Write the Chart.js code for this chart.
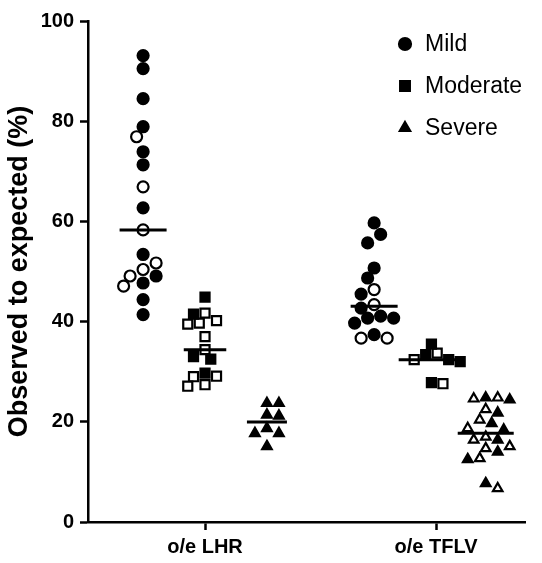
<!DOCTYPE html>
<html>
<head>
<meta charset="utf-8">
<script src="https://cdn.jsdelivr.net/npm/chart.js@4.4.1/dist/chart.umd.min.js"></script>
<style>
  html, body { margin: 0; padding: 0; background: #fff; }
</style>
</head>
<body>
<canvas id="myChart" width="542" height="563"></canvas>
<script>
const categories = ['o/e LHR', 'o/e TFLV'];
const severities = ['Mild', 'Moderate', 'Severe'];
const yTicks = [0, 20, 40, 60, 80, 100];
const yTitle = 'Observed to expected (%)';

// filled = solid markers, open = hollow markers (values in %)
const lhrMildFilled = [93.1, 90.5, 84.5, 78.9, 73.9, 71.3, 62.7, 53.4, 49.1, 47.7, 44.4, 41.4];
const lhrMildOpen = [76.9, 66.9, 58.3, 51.7, 50.4, 49.1, 47.1];
const lhrModerateFilled = [44.9, 41.5, 33.0, 32.5, 29.7];
const lhrModerateOpen = [41.7, 40.2, 39.7, 39.5, 37.0, 34.4, 29.1, 29.0, 27.4, 27.1];
const lhrSevereFilled = [23.7, 23.7, 21.4, 21.2, 18.7, 17.7, 17.7, 15.1];
const lhrSevereOpen = [];
const tflvMildFilled = [59.7, 57.4, 55.7, 50.7, 48.7, 45.5, 42.7, 41.1, 40.7, 40.7, 39.7, 37.4];
const tflvMildOpen = [46.4, 43.4, 36.7, 36.7];
const tflvModerateFilled = [35.5, 33.4, 32.4, 32.0, 27.8];
const tflvModerateOpen = [33.7, 32.4, 27.6];
const tflvSevereFilled = [24.4, 24.8, 21.8, 19.7, 18.4, 16.4, 14.0, 12.5, 7.7];
const tflvSevereOpen = [24.8, 24.6, 22.5, 20.4, 18.7, 17.0, 16.4, 15.1, 14.7, 12.7, 6.7];

const groups = [
  { cat: 0, sev: 0, filled: lhrMildFilled, open: lhrMildOpen },
  { cat: 0, sev: 1, filled: lhrModerateFilled, open: lhrModerateOpen },
  { cat: 0, sev: 2, filled: lhrSevereFilled, open: lhrSevereOpen },
  { cat: 1, sev: 0, filled: tflvMildFilled, open: tflvMildOpen },
  { cat: 1, sev: 1, filled: tflvModerateFilled, open: tflvModerateOpen },
  { cat: 1, sev: 2, filled: tflvSevereFilled, open: tflvSevereOpen }
];

// layout
const catPos = [1, 2];
const sevShift = [[-0.268, 0, 0.268], [-0.268, -0.02, 0.215]];
const styles = ['circle', 'rect', 'triangle'];
const radii = [5.5, 6.4, 5.5];
const diams = [13, 11.5, 12];
const lineW = 2.2;
const FONT = '"Liberation Sans", Arial, sans-serif';

groups.forEach(g => {
  g.x = catPos[g.cat] + sevShift[g.cat][g.sev];
  g.values = g.filled.concat(g.open);
  const s = g.values.slice().sort((a, b) => a - b), n = s.length;
  g.median = n % 2 ? s[(n - 1) / 2] : (s[n / 2 - 1] + s[n / 2]) / 2;
  g.off = g.values.map(() => 0);
  g.half = 0.09;
});

// simple beeswarm in pixel space
function swarm(py, diam) {
  const order = py.map((p, i) => i).sort((a, b) => py[a] - py[b]);
  const placed = [];
  const off = py.map(() => 0);
  const step = diam / 2, minD = diam * 0.9;
  order.forEach((i, n) => {
    for (let k = 0; k < 60; k++) {
      const cands = k === 0 ? [0] : (n % 2 ? [k * step, -k * step] : [-k * step, k * step]);
      const ok = cands.find(dx => placed.every(q => Math.hypot(q.dx - dx, q.py - py[i]) >= minD));
      if (ok !== undefined) {
        off[i] = ok;
        placed.push({ dx: ok, py: py[i] });
        break;
      }
    }
  });
  return off;
}

function buildDatasets() {
  const sets = [];
  groups.forEach(g => {
    sets.push({
      type: 'line',
      data: [{ x: g.x - g.half, y: g.median }, { x: g.x + g.half, y: g.median }],
      borderColor: '#000',
      borderWidth: 3,
      pointRadius: 0,
      order: 0
    });
  });
  severities.forEach((name, sev) => {
    [false, true].forEach(hollow => {
      const data = [];
      groups.filter(g => g.sev === sev).forEach(g => {
        const n = g.filled.length;
        g.values.forEach((v, i) => {
          if ((i >= n) === hollow) data.push({ x: g.x + g.off[i], y: v });
        });
      });
      sets.push({
        type: 'scatter',
        label: hollow ? name + ' (open)' : name,
        data: data,
        pointStyle: styles[sev],
        pointRadius: radii[sev],
        pointBackgroundColor: hollow ? '#fff' : '#000',
        pointBorderColor: '#000',
        pointBorderWidth: lineW,
        order: 1
      });
    });
  });
  return sets;
}

function drawMarker(ctx, style, r, x, y) {
  ctx.beginPath();
  if (style === 'circle') {
    ctx.arc(x, y, r, 0, Math.PI * 2);
  } else if (style === 'rect') {
    const s = r * Math.SQRT1_2;
    ctx.rect(x - s, y - s, 2 * s, 2 * s);
  } else {
    ctx.moveTo(x, y - r);
    ctx.lineTo(x + r * Math.sin(2 * Math.PI / 3), y - r * Math.cos(2 * Math.PI / 3));
    ctx.lineTo(x + r * Math.sin(4 * Math.PI / 3), y - r * Math.cos(4 * Math.PI / 3));
    ctx.closePath();
  }
  ctx.fill();
  ctx.stroke();
}

const sideLegend = {
  id: 'sideLegend',
  afterDraw(chart) {
    const ctx = chart.ctx, a = chart.chartArea;
    ctx.save();
    ctx.fillStyle = '#000';
    ctx.strokeStyle = '#000';
    ctx.lineWidth = lineW;
    ctx.font = '23px ' + FONT;
    ctx.textBaseline = 'middle';
    ctx.textAlign = 'left';
    severities.forEach((name, i) => {
      const x = a.right - 120, y = a.top + 23 + i * 42;
      drawMarker(ctx, styles[i], radii[i] + 0.5, x, y);
      ctx.fillText(name, x + 20, y + 1);
    });
    ctx.restore();
  }
};

Chart.defaults.font.family = FONT;
Chart.defaults.color = '#000';

const ctx = document.getElementById('myChart');
const myChart = new Chart(ctx, {
  type: 'scatter',
  data: { datasets: buildDatasets() },
  options: {
    responsive: false,
    animation: false,
    layout: { padding: { top: 21, right: 17, left: 0, bottom: 0 } },
    plugins: { legend: { display: false }, tooltip: { enabled: false } },
    scales: {
      x: {
        type: 'linear',
        min: 0.4935,
        max: 2.385,
        afterBuildTicks: s => { s.ticks = catPos.map(v => ({ value: v })); },
        afterFit: s => { s.height = 41; },
        border: { color: '#000', width: 2.5 },
        grid: { drawOnChartArea: false, tickLength: 8, tickWidth: 2.5, tickColor: '#000' },
        ticks: {
          padding: 5,
          font: { size: 20, weight: 'bold' },
          callback: v => categories[catPos.indexOf(v)] || ''
        }
      },
      y: {
        min: yTicks[0],
        max: yTicks[yTicks.length - 1],
        afterBuildTicks: s => { s.ticks = yTicks.map(v => ({ value: v })); },
        afterFit: s => { s.width = 88; },
        border: { color: '#000', width: 2.5 },
        grid: { drawOnChartArea: false, tickLength: 8, tickWidth: 2.5, tickColor: '#000' },
        ticks: { padding: 6, font: { size: 20, weight: 'bold' } },
        title: {
          display: true,
          text: yTitle,
          font: { size: 27, weight: 'bold' },
          padding: { top: 3, bottom: 0 }
        }
      }
    }
  },
  plugins: [sideLegend]
});

// spread the points once the scales are known
const ys = myChart.scales.y, xs = myChart.scales.x;
const pxPerX = xs.getPixelForValue(2) - xs.getPixelForValue(1);
groups.forEach(g => {
  const off = swarm(g.values.map(v => ys.getPixelForValue(v)), diams[g.sev]);
  g.off = off.map(d => d / pxPerX);
  g.half = (Math.max(16, ...off.map(Math.abs)) + 4) / pxPerX;
});
myChart.data.datasets = buildDatasets();
myChart.update('none');
</script>
</body>
</html>
